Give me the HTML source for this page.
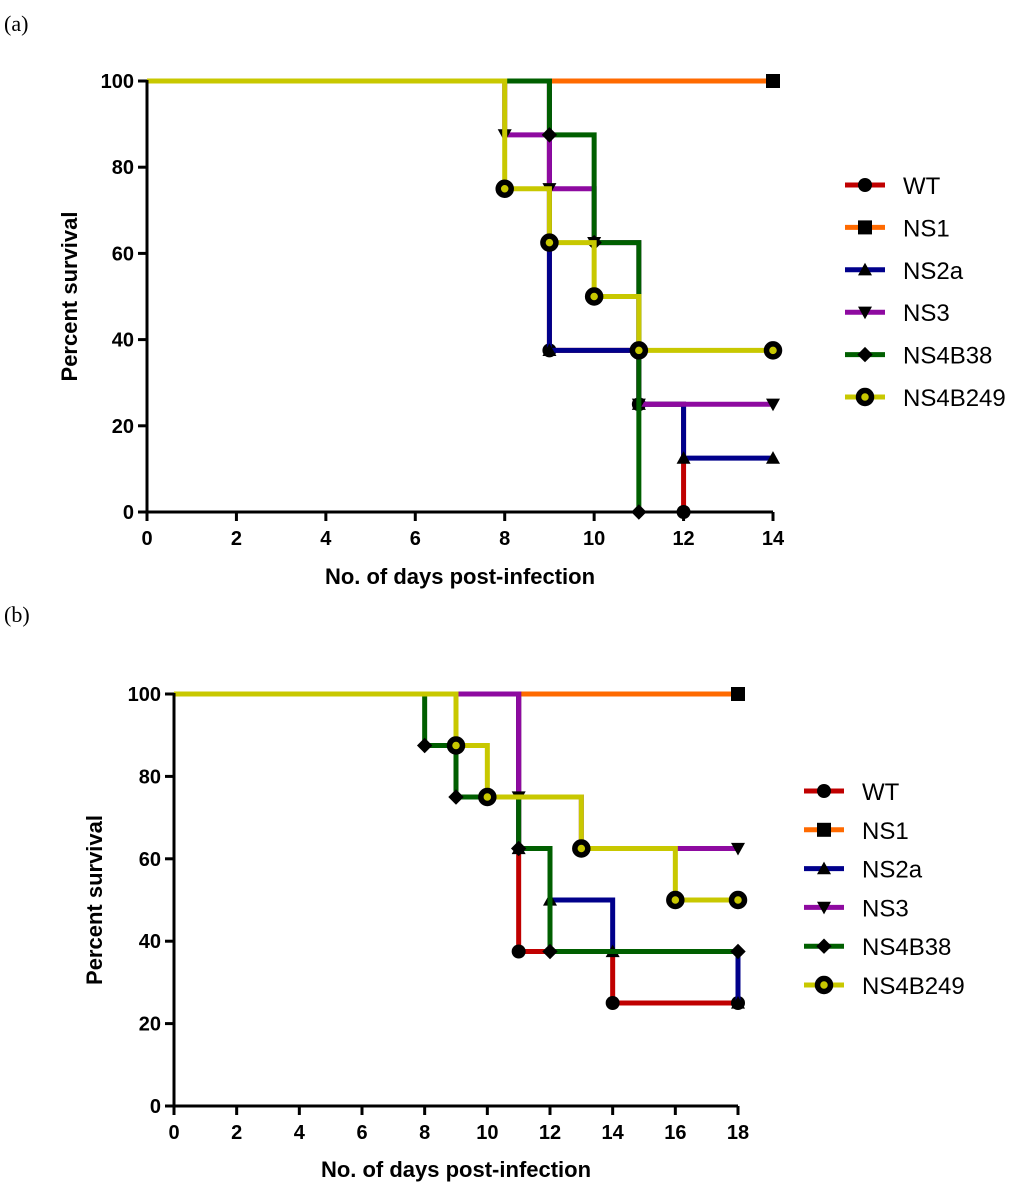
<!DOCTYPE html>
<html><head><meta charset="utf-8"><style>
body{margin:0;background:#fff}
svg{display:block}
text{font-family:"Liberation Sans",Arial,sans-serif;font-weight:bold;fill:#000}
.pl{font-family:"Liberation Serif",serif;font-weight:normal;font-size:22px}
.lg{font-weight:normal;font-size:24px}
</style></head><body>
<svg id="svg" width="1024" height="1192"></svg>
<script>
const seriesNames=["WT","NS1","NS2a","NS3","NS4B38","NS4B249"];
const colors=["#c00000","#ff6a00","#00008b","#8e0aa0","#005f00","#c8c800"];
const markers=["circle","square","tri","dtri","diamond","ring"];
// panel a: event times and survival values
const aT=[[0,9,11,12],[0,14],[0,9,11,12,14],[0,8,9,10,11,14],[0,9,10,11],[0,8,9,10,11,14]];
const aS=[[100,37.5,25,0],[100,100],[100,37.5,25,12.5,12.5],[100,87.5,75,62.5,25,25],[100,87.5,62.5,0],[100,75,62.5,50,37.5,37.5]];
const aXTicks=[0,2,4,6,8,10,12,14];
const yTicks=[0,20,40,60,80,100];
// panel b
const bT=[[0,11,14,18],[0,18],[0,11,12,14,18],[0,11,13,18],[0,8,9,11,12,18],[0,9,10,13,16,18]];
const bS=[[100,37.5,25,25],[100,100],[100,62.5,50,37.5,25],[100,75,62.5,62.5],[100,87.5,75,62.5,37.5,37.5],[100,87.5,75,62.5,50,50]];
const bXTicks=[0,2,4,6,8,10,12,14,16,18];

const svg=document.getElementById('svg');
const NS='http://www.w3.org/2000/svg';
function el(t,a,p){const e=document.createElementNS(NS,t);for(const k in a)e.setAttribute(k,a[k]);(p||svg).appendChild(e);return e;}
function marker(g,type,x,y,r){
  let m;
  if(type==='circle')m=el('circle',{cx:x,cy:y,r:r,fill:'#000'},g);
  else if(type==='square')m=el('rect',{x:x-r,y:y-r,width:2*r,height:2*r,fill:'#000'},g);
  else if(type==='tri')m=el('polygon',{points:`${x},${y-r} ${x-r},${y+r*0.8} ${x+r},${y+r*0.8}`,fill:'#000'},g);
  else if(type==='dtri')m=el('polygon',{points:`${x},${y+r} ${x-r},${y-r*0.8} ${x+r},${y-r*0.8}`,fill:'#000'},g);
  else if(type==='diamond')m=el('polygon',{points:`${x},${y-r*1.1} ${x+r*1.1},${y} ${x},${y+r*1.1} ${x-r*1.1},${y}`,fill:'#000'},g);
  else {m=el('circle',{cx:x,cy:y,r:6.5,fill:'#c8c800',stroke:'#000','stroke-width':5.5},g);}
  
  
}
function panel(cfg){
  const {x0,x1,y0,y1,xmax,T,S,xt,lab,labY,ylx,xly,legX,legY,legDy}=cfg;
  const X=v=>x0+(x1-x0)*v/xmax, Y=v=>y0+(y1-y0)*v/100;
  const g=el('g',{});
  
  
  const t=el('text',{x:4,y:labY,class:'pl'},g);t.textContent='('+lab+')';
  
  for(let i=0;i<T.length;i++){
    const sg=el('g',{},g);
    
    
    let d=`M${X(T[i][0])},${Y(S[i][0])}`;
    for(let j=1;j<T[i].length;j++){d+=` H${X(T[i][j])} V${Y(S[i][j])}`;}
    const p=el('path',{d:d,fill:'none',stroke:colors[i],'stroke-width':5,'stroke-linejoin':'miter'},sg);
    
    for(let j=1;j<T[i].length;j++)marker(sg,markers[i],X(T[i][j]),Y(S[i][j]),7);
  }
  const ax=el('path',{d:`M${x0},${Y(100)-1} V${y0} H${x1}`,fill:'none',stroke:'#000','stroke-width':3},g);
  
  for(const v of xt){
    el('line',{x1:X(v),x2:X(v),y1:y0,y2:y0+9,stroke:'#000','stroke-width':3},g);
    const tx=el('text',{x:X(v),y:y0+33,'text-anchor':'middle','font-size':20},g);tx.textContent=v;
    
  }
  for(const v of yTicks){
    el('line',{x1:x0-9,x2:x0,y1:Y(v),y2:Y(v),stroke:'#000','stroke-width':3},g);
    const ty=el('text',{x:x0-13,y:Y(v)+7,'text-anchor':'end','font-size':20},g);ty.textContent=v;
    
  }
  const yl=el('text',{x:0,y:0,'text-anchor':'middle','font-size':22,transform:`translate(${ylx},${(Y(100)+y0)/2}) rotate(-90)`},g);
  yl.textContent='Percent survival';
  const xl=el('text',{x:(x0+x1)/2,y:xly,'text-anchor':'middle','font-size':22},g);
  xl.textContent='No. of days post-infection';
  for(let i=0;i<seriesNames.length;i++){
    const lg=el('g',{},g);
    
    const yy=legY+i*legDy;
    el('line',{x1:legX,x2:legX+40,y1:yy,y2:yy,stroke:colors[i],'stroke-width':5},lg);
    marker(lg,markers[i],legX+20,yy,7);
    const lt=el('text',{x:legX+58,y:yy+9,class:'lg'},lg);lt.textContent=seriesNames[i];
  }
}
panel({x0:147,x1:773,y0:512,y1:81,xmax:14,T:aT,S:aS,xt:aXTicks,lab:'a',labY:31,ylx:77,xly:584,legX:845,legY:185,legDy:42.4});
panel({x0:174,x1:738,y0:1106,y1:694,xmax:18,T:bT,S:bS,xt:bXTicks,lab:'b',labY:622,ylx:102,xly:1177,legX:804,legY:791,legDy:38.8});
</script>
</body></html>
